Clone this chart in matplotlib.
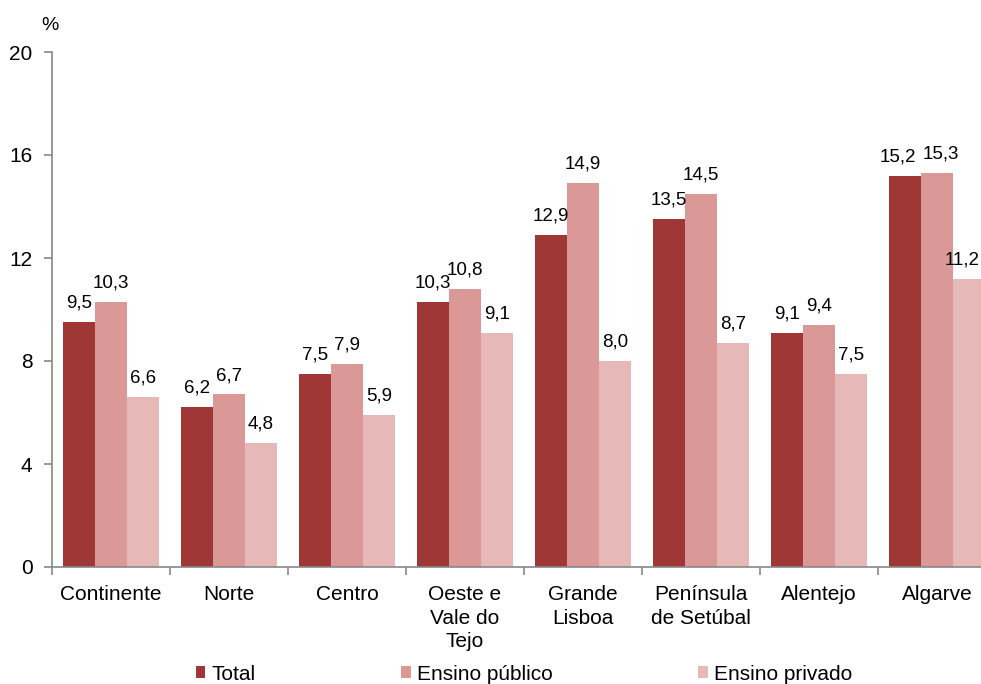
import matplotlib
matplotlib.use("Agg")
import matplotlib.pyplot as plt
from matplotlib.patches import Patch
import numpy as np

plt.rcParams['font.family'] = ['Liberation Sans', 'DejaVu Sans']

categories = ["Continente", "Norte", "Centro", "Oeste e\nVale do\nTejo", "Grande\nLisboa",
              "Península\nde Setúbal", "Alentejo", "Algarve"]
total = [9.5, 6.2, 7.5, 10.3, 12.9, 13.5, 9.1, 15.2]
publico = [10.3, 6.7, 7.9, 10.8, 14.9, 14.5, 9.4, 15.3]
privado = [6.6, 4.8, 5.9, 9.1, 8.0, 8.7, 7.5, 11.2]
series_names = ["Total", "Ensino público", "Ensino privado"]
colors = ["#9E3735", "#DA9896", "#E6B9B8"]
yticks = [0, 4, 8, 12, 16, 20]

fig = plt.figure(figsize=(9.81, 6.84), dpi=100)
ax = fig.add_axes([52/981, (684-567)/684, (996-52)/981, (567-52)/684])

x = np.arange(len(categories))
w = 0.271
# small horizontal nudges (points) of labels in the last group to avoid overlap / clipping
nudge = {(0, 7): -5, (1, 7): 3, (2, 7): -5}
for k, (vals, col) in enumerate(zip([total, publico, privado], colors)):
    xs = x + (k - 1) * w
    ax.bar(xs, vals, width=w, color=col, edgecolor='none', zorder=2)
    for i, (xi, v) in enumerate(zip(xs, vals)):
        ax.annotate(f"{v:.1f}".replace('.', ','), (xi, v), xytext=(nudge.get((k, i), 0), 7.5),
                    textcoords='offset points', ha='center', va='bottom', fontsize=13.5)

ax.set_xlim(-0.5, len(categories) - 0.5)
ax.set_ylim(0, 20)
ax.set_yticks(yticks)
ax.set_yticklabels([str(t) for t in yticks], fontsize=15)
ax.set_xticks(x)
ax.set_xticklabels(categories, fontsize=15, linespacing=1.3)
ax.set_xticks(np.arange(-0.5, len(categories), 1.0), minor=True)
ax.tick_params(axis='x', which='major', length=0, pad=13)
ax.tick_params(axis='x', which='minor', length=6, color='#888888', width=1.2)
ax.tick_params(axis='y', length=6, color='#888888', width=1.2, pad=8)
for s in ['top', 'right']:
    ax.spines[s].set_visible(False)
for s in ['left', 'bottom']:
    ax.spines[s].set_color('#888888')
    ax.spines[s].set_linewidth(1.2)

fig.text(50/981, 1 - 26/684, "%", fontsize=14, ha='center', va='center')

handles = [Patch(facecolor=c, edgecolor='none', label=n) for c, n in zip(colors, series_names)]
fig.legend(handles=handles, loc='center', bbox_to_anchor=(524/981, 1 - 674/684), ncol=3,
           frameon=False, fontsize=15, handlelength=0.45, handleheight=0.45,
           handletextpad=0.3, columnspacing=7.0, borderpad=0, borderaxespad=0)

fig.savefig("out.png", dpi=100)
